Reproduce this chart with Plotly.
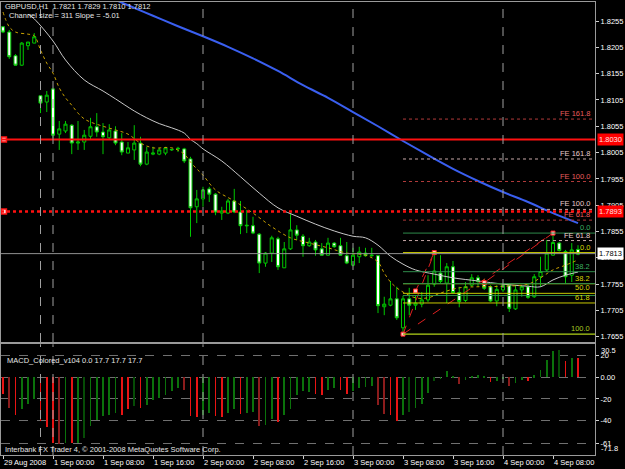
import plotly.graph_objects as go

FONT = "Liberation Sans, Arial, sans-serif"

# ---------------- data ----------------
bar_index = list(range(93))

open_ = [1.8244, 1.8234, 1.8189, 1.8171, 1.8208, 1.8213, 1.8113, 1.8101, 1.8126, 1.8040,
         1.8046, 1.8057, 1.8023, 1.8025, 1.8036, 1.8054, 1.8044, 1.8033, 1.8046, 1.8025,
         1.8004, 1.8010, 1.8023, 1.7983, 1.8002, 1.8002, 1.8004, 1.8010, 1.8012, 1.8012,
         1.7993, 1.7902, 1.7917, 1.7936, 1.7926, 1.7890, 1.7890, 1.7913, 1.7892, 1.7867,
         1.7866, 1.7850, 1.7795, 1.7814, 1.7841, 1.7786, 1.7822, 1.7858, 1.7846, 1.7828,
         1.7835, 1.7822, 1.7810, 1.7833, 1.7828, 1.7809, 1.7791, 1.7807, 1.7814, 1.7809,
         1.7809, 1.7712, 1.7715, 1.7727, 1.7672, 1.7727, 1.7715, 1.7717, 1.7725, 1.7755,
         1.7776, 1.7757, 1.7788, 1.7739, 1.7724, 1.7753, 1.7767, 1.7760, 1.7750, 1.7723,
         1.7744, 1.7753, 1.7708, 1.7744, 1.7750, 1.7731, 1.7769, 1.7782, 1.7810, 1.7833,
         1.7817, 1.7772, 1.7821]
high = [1.8245, 1.8238, 1.8192, 1.8215, 1.8215, 1.8232, 1.8114, 1.8122, 1.8128, 1.8065,
        1.8065, 1.8059, 1.8065, 1.8048, 1.8071, 1.8080, 1.8061, 1.8059, 1.8055, 1.8042,
        1.8025, 1.8057, 1.8035, 1.8016, 1.8016, 1.8014, 1.8016, 1.8012, 1.8016, 1.8014,
        1.7997, 1.7934, 1.7940, 1.7940, 1.7928, 1.7902, 1.7917, 1.7936, 1.7913, 1.7896,
        1.7883, 1.7852, 1.7816, 1.7847, 1.7845, 1.7835, 1.7888, 1.7867, 1.7850, 1.7843,
        1.7839, 1.7833, 1.7843, 1.7835, 1.7843, 1.7835, 1.7824, 1.7826, 1.7824, 1.7824,
        1.7810, 1.7731, 1.7761, 1.7750, 1.7733, 1.7748, 1.7734, 1.7740, 1.7772, 1.7815,
        1.7810, 1.7795, 1.7799, 1.7750, 1.7759, 1.7774, 1.7772, 1.7765, 1.7753, 1.7753,
        1.7757, 1.7757, 1.7753, 1.7753, 1.7757, 1.7774, 1.7807, 1.7839, 1.7852, 1.7835,
        1.7820, 1.7833, 1.7829]
low = [1.8232, 1.8183, 1.8170, 1.8170, 1.8200, 1.8213, 1.8080, 1.8082, 1.8033, 1.8010,
       1.8042, 1.8002, 1.8010, 1.8010, 1.8029, 1.8035, 1.8002, 1.8029, 1.8019, 1.8000,
       1.8004, 1.7991, 1.7979, 1.7981, 1.8000, 1.8000, 1.8000, 1.8008, 1.8006, 1.7985,
       1.7845, 1.7871, 1.7902, 1.7911, 1.7886, 1.7877, 1.7888, 1.7890, 1.7850, 1.7852,
       1.7850, 1.7776, 1.7788, 1.7797, 1.7782, 1.7786, 1.7820, 1.7839, 1.7807, 1.7826,
       1.7809, 1.7809, 1.7809, 1.7824, 1.7809, 1.7793, 1.7789, 1.7795, 1.7807, 1.7807,
       1.7700, 1.7696, 1.7713, 1.7687, 1.7660, 1.7696, 1.7706, 1.7711, 1.7721, 1.7750,
       1.7757, 1.7719, 1.7736, 1.7711, 1.7721, 1.7750, 1.7751, 1.7744, 1.7721, 1.7713,
       1.7740, 1.7702, 1.7706, 1.7731, 1.7727, 1.7729, 1.7750, 1.7778, 1.7809, 1.7817,
       1.7757, 1.7759, 1.7810]
close = [1.8234, 1.8187, 1.8171, 1.8213, 1.8215, 1.8225, 1.8099, 1.8114, 1.8038, 1.8050,
         1.8059, 1.8023, 1.8025, 1.8038, 1.8054, 1.8044, 1.8035, 1.8048, 1.8023, 1.8006,
         1.8014, 1.8023, 1.7983, 1.8006, 1.8004, 1.8010, 1.8014, 1.8011, 1.8013, 1.7989,
         1.7900, 1.7917, 1.7934, 1.7926, 1.7892, 1.7894, 1.7913, 1.7892, 1.7866, 1.7866,
         1.7852, 1.7795, 1.7814, 1.7843, 1.7788, 1.7822, 1.7858, 1.7848, 1.7828, 1.7835,
         1.7820, 1.7810, 1.7833, 1.7826, 1.7810, 1.7795, 1.7810, 1.7816, 1.7809, 1.7810,
         1.7714, 1.7717, 1.7727, 1.7691, 1.7727, 1.7715, 1.7719, 1.7725, 1.7753, 1.7780,
         1.7760, 1.7788, 1.7739, 1.7722, 1.7750, 1.7767, 1.7760, 1.7747, 1.7723, 1.7745,
         1.7753, 1.7709, 1.7744, 1.7750, 1.7730, 1.7769, 1.7779, 1.7814, 1.7834, 1.7819,
         1.7769, 1.7820, 1.7812]

# moving averages (values read at selected bars)
ma_blue_idx = [18, 20, 24, 28, 32, 36, 40, 44, 48, 52, 56, 60, 64, 68, 72, 76, 80, 84, 88, 92]
ma_blue = [1.8295, 1.8285, 1.8265, 1.8245, 1.8226, 1.8206, 1.8184, 1.8160, 1.8133, 1.8109,
           1.8082, 1.8055, 1.8027, 1.8000, 1.7974, 1.7951, 1.7930, 1.7911, 1.7890, 1.7871]

ma_silver_idx = [4, 5, 8, 10, 13, 16, 18, 21, 23, 25, 27, 29, 30, 31, 32, 35, 38, 41, 44, 47,
                 50, 53, 56, 58, 60, 62, 64, 66, 69, 72, 76, 80, 84, 86, 88, 90, 92]
ma_silver = [1.8268, 1.8259, 1.8217, 1.8181, 1.8143, 1.8122, 1.8107, 1.8084, 1.8071, 1.8060,
             1.8052, 1.8042, 1.8030, 1.8022, 1.8012, 1.7989, 1.7959, 1.7928, 1.7900, 1.7884,
             1.7869, 1.7856, 1.7846, 1.7843, 1.7829, 1.7808, 1.7793, 1.7782, 1.7774, 1.7767,
             1.7761, 1.7755, 1.7751, 1.7750, 1.7763, 1.7772, 1.7778]

ma_gold_idx = [0, 1, 2, 4, 5, 6, 7, 8, 9, 10, 11, 12, 13, 14, 16, 18, 20, 22, 24, 27,
               29, 30, 31, 32, 34, 37, 40, 43, 46, 49, 52, 55, 58, 60, 61, 62, 63, 64, 66, 68,
               70, 73, 76, 80, 84, 86, 88, 90, 92]
ma_gold = [1.8272, 1.8244, 1.8234, 1.8230, 1.8227, 1.8200, 1.8175, 1.8156, 1.8128, 1.8109,
           1.8095, 1.8080, 1.8069, 1.8063, 1.8055, 1.8048, 1.8040, 1.8023, 1.8014, 1.8014,
           1.8002, 1.7987, 1.7974, 1.7962, 1.7934, 1.7913, 1.7890, 1.7864, 1.7843, 1.7833,
           1.7824, 1.7814, 1.7810, 1.7797, 1.7776, 1.7759, 1.7748, 1.7740, 1.7729, 1.7729,
           1.7738, 1.7748, 1.7750, 1.7751, 1.7755, 1.7767, 1.7782, 1.7791, 1.7801]

# MACD histogram
macd_hist = [-16, -28.6, -35, -30, -25, -20, -41, -46.5, -61, -62,
             -61, -61, -61, -56, -45.5, -40, -36, -35, -33, -35,
             -30, -27, -28.6, -25.5, -21, -19.4, -16.3, -12.6, -10, -12.3,
             -36, -37, -35, -33, -36, -37, -33, -30, -34, -33,
             -32, -45, -44, -39, -41.5, -35, -30, -17, -13, -13.8,
             -15.7, -17, -11.7, -10, -11.7, -15.4, -13, -10, -9.5, -8.6,
             -25.5, -33.8, -35.4, -40.3, -34.8, -32.6, -28.6, -24.6, -14.8, -4,
             -1.8, 5.2, 0.5, -6.2, -2.8, 0.3, 1.5, 0.3, -5, -4,
             -2, -8.6, -5.5, -2.8, -4, 1.5, 6.8, 15.4, 24.3, 25.2,
             15, 17.5, 17.7]
macd_state = ["r", "m", "r", "g", "g", "g", "r", "r", "r", "m",
              "g", "r", "g", "d", "g", "g", "g", "g", "g", "r",
              "r", "d", "r", "g", "g", "g", "g", "g", "g", "m",
              "r", "r", "g", "g", "r", "r", "g", "g", "r", "g",
              "g", "m", "g", "g", "r", "g", "g", "g", "g", "g",
              "r", "r", "g", "g", "r", "r", "g", "g", "g", "g",
              "m", "m", "r", "r", "g", "d", "g", "g", "g", "d",
              "g", "g", "g", "m", "g", "g", "g", "g", "r", "g",
              "g", "m", "g", "g", "r", "g", "g", "g", "g", "d",
              "r", "g", "r"]

time_tick_idx = [0, 8, 16, 24, 32, 40, 48, 56, 64, 72, 80, 88]
time_tick_text = ["29 Aug 2008", "1 Sep 00:00", "1 Sep 08:00", "1 Sep 16:00", "2 Sep 00:00",
                  "2 Sep 08:00", "2 Sep 16:00", "3 Sep 00:00", "3 Sep 08:00", "3 Sep 16:00",
                  "4 Sep 00:00", "4 Sep 08:00"]
separator_idx = [6, 8, 32, 56, 80]

price_ticks = [1.7655, 1.7705, 1.7755, 1.7805, 1.7855, 1.7905, 1.7955, 1.8005,
               1.8055, 1.8105, 1.8155, 1.8205, 1.8255]
macd_ticks = [20, 0, -20, -40, -61]
macd_tick_text = ["20", "0.00", "-20", "-40", "-61"]
macd_max, macd_min = 30.5, -71.8

red_line_solid = 1.8030
red_line_dot = 1.7893
bid_price = 1.7813

# Fibonacci anchors (bar index, price)
swing_low = (64, 1.7660)
swing_high1 = (69, 1.7815)
swing_high2 = (88, 1.7852)
fe_a_c = (77, 1.7758)
fe_b_c = (66, 1.7742)
retr_levels = [0.0, 38.2, 50.0, 61.8, 100.0]
fe_levels = [61.8, 100.0, 161.8]

# ---------------- figure ----------------
X0, X1 = -0.32, 94.72
Y0, Y1 = 1.76450, 1.82911

fig = go.Figure()

fig.add_trace(go.Candlestick(
    x=bar_index, open=open_, high=high, low=low, close=close,
    increasing=dict(line=dict(color="#00c800", width=1), fillcolor="#000000"),
    decreasing=dict(line=dict(color="#00c800", width=1), fillcolor="#ffffff"),
    whiskerwidth=0, showlegend=False, hoverinfo="skip", xaxis="x", yaxis="y"))

fig.add_trace(go.Scatter(x=ma_blue_idx, y=ma_blue, mode="lines", line=dict(color="#3a5ff0", width=2, shape="spline"),
                         showlegend=False, hoverinfo="skip"))
fig.add_trace(go.Scatter(x=ma_silver_idx, y=ma_silver, mode="lines", line=dict(color="#c8c8c8", width=1, shape="spline"),
                         showlegend=False, hoverinfo="skip"))
fig.add_trace(go.Scatter(x=ma_gold_idx, y=ma_gold, mode="lines", line=dict(color="#c8a000", width=1, dash="dot", shape="spline"),
                         showlegend=False, hoverinfo="skip"))

# zigzag / fibo anchor lines
def seg(a, b, color="#e02020"):
    fig.add_trace(go.Scatter(x=[a[0], b[0]], y=[a[1], b[1]], mode="lines",
                             line=dict(color=color, width=1, dash="dash"),
                             showlegend=False, hoverinfo="skip"))

seg(swing_low, swing_high1)
seg(swing_high1, fe_b_c)
seg(swing_low, swing_high2)
seg(swing_high2, fe_a_c)

anchors = [swing_low, fe_b_c, swing_high1, fe_a_c, swing_high2]
fig.add_trace(go.Scatter(x=[a[0] for a in anchors], y=[a[1] for a in anchors], mode="markers",
                         marker=dict(symbol="square", size=4, color="#ffc8c8", line=dict(color="#ff2020", width=1)),
                         showlegend=False, hoverinfo="skip"))

shapes = []
annotations = []

def label(text, y, color):
    annotations.append(dict(text=text, xref="paper", yref="y", x=1, y=y, xanchor="right",
                            yanchor="bottom", xshift=-3, yshift=-1, showarrow=False,
                            font=dict(family=FONT, size=7.5, color=color)))

def hline(y, color, dash="solid", width=1, x0=None):
    if x0 is None:
        shapes.append(dict(type="line", xref="x domain", yref="y", x0=0, x1=1, y0=y, y1=y,
                           line=dict(color=color, width=width, dash=dash)))
    else:
        shapes.append(dict(type="line", xref="x", yref="y", x0=x0, x1=X1, y0=y, y1=y,
                           line=dict(color=color, width=width, dash=dash)))

# Fibo expansions
rng_a = swing_high2[1] - swing_low[1]
rng_b = swing_high1[1] - swing_low[1]
for lv in fe_levels:
    ya = fe_a_c[1] + lv / 100 * rng_a
    hline(ya, "#b03a3a", "dot", 1, x0=swing_low[0])
    label("FE %.1f" % lv, ya, "#e85c5c")
    yb = fe_b_c[1] + lv / 100 * rng_b
    hline(yb, "#c8a8a8", "dot", 1, x0=swing_low[0])
    label("FE %.1f" % lv, yb, "#e8cccc")

# Fibo retracements (green: low->high2, yellow: low->high1)
for lv in retr_levels:
    yg = swing_high2[1] - lv / 100 * rng_a
    hline(yg, "#2e8b4a", "solid", 1, x0=swing_low[0])
    yy = swing_high1[1] - lv / 100 * rng_b
    hline(yy, "#c8c800", "solid", 1, x0=swing_low[0])
for lv in [0.0, 38.2]:
    label("%.1f" % lv, swing_high2[1] - lv / 100 * rng_a, "#3cb060")
for lv in [0.0, 38.2, 50.0, 61.8]:
    label("%.1f" % lv, swing_high1[1] - lv / 100 * rng_b, "#d8d800")
label("100.0", swing_low[1], "#a8c820")

# horizontal price lines
hline(bid_price, "#909090", "solid", 1)
hline(red_line_solid, "#ff1010", "solid", 2)
hline(red_line_dot, "#ff1010", "dot", 2.5)

fig.add_trace(go.Scatter(x=[0.15, 0.15], y=[red_line_solid, red_line_dot], mode="markers",
                         marker=dict(symbol="square", size=5, color="#ffd0d0", line=dict(color="#ff1010", width=1.5)),
                         showlegend=False, hoverinfo="skip"))

# period separators
for s in separator_idx:
    shapes.append(dict(type="line", xref="x", yref="y domain", x0=s, x1=s, y0=0, y1=1,
                       line=dict(color="#a0a0a0", width=1, dash="dash")))
    shapes.append(dict(type="line", xref="x2", yref="y2 domain", x0=s, x1=s, y0=0, y1=1,
                       line=dict(color="#a0a0a0", width=1, dash="dash")))

# MACD histogram
state_color = {"g": "#0b720b", "d": "#064c06", "r": "#e81414", "m": "#8c1c1c"}
fig.add_trace(go.Bar(x=bar_index, y=macd_hist, marker=dict(color=[state_color[s] for s in macd_state], line=dict(width=0)),
                     width=0.14, xaxis="x2", yaxis="y2", showlegend=False, hoverinfo="skip"))

# price boxes on right axis
def box(text, y, bg, fg):
    annotations.append(dict(text=text, xref="paper", yref="y", x=1, y=y, xanchor="left", yanchor="middle",
                            xshift=2, showarrow=False, bgcolor=bg, borderpad=1,
                            font=dict(family=FONT, size=7.5, color=fg)))

box("%.4f" % red_line_solid, red_line_solid, "#ff0000", "#ffe0e0")
box("%.4f" % red_line_dot, red_line_dot, "#ff0000", "#ffe0e0")
box("%.4f" % bid_price, bid_price, "#ffffff", "#000000")

# MACD extreme labels
for v, anc in [(macd_max, "top"), (macd_min, "bottom")]:
    annotations.append(dict(text=("%.1f" % v), xref="paper", yref="y2", x=1, y=v, xanchor="left",
                            yanchor=anc, xshift=4, showarrow=False,
                            font=dict(family=FONT, size=7.5, color="#ffffff")))

# header texts
def txt(t, x, y, size=7.5):
    annotations.append(dict(text=t, xref="paper", yref="paper", x=x, y=y, xanchor="left", yanchor="middle",
                            showarrow=False, font=dict(family=FONT, size=size, color="#e6e6e6")))

txt("GBPUSD,H1  %.4f %.4f %.4f %.4f" % (open_[-1], high[-1], low[-1], close[-1]), 0.003, 0.9896)
txt("Channel size = 311 Slope = -5.01", 0.010, 0.9697)
txt("MACD_Colored_v104 0.0 %.1f %.1f %.1f" % (macd_hist[-1], macd_hist[-1], macd_hist[-1]), 0.006, 0.2097)
txt("Interbank FX Trader 4, © 2001-2008 MetaQuotes Software Corp.", 0.003, 0.0132)

axis_common = dict(showgrid=False, zeroline=False, showline=True, mirror=True, linecolor="#9a9a9a",
                   linewidth=1, automargin=False)

fig.update_layout(
    width=625, height=469,
    margin=dict(l=1, r=30, t=2, b=14, autoexpand=False),
    paper_bgcolor="#000000", plot_bgcolor="#000000",
    font=dict(family=FONT, size=7.5, color="#ffffff"),
    showlegend=False, boxgap=0.3, bargap=0,
    shapes=shapes, annotations=annotations,
    xaxis=dict(range=[X0, X1], domain=[0, 1], anchor="y", showticklabels=False, ticks="",
               rangeslider=dict(visible=False), **axis_common),
    yaxis=dict(range=[Y0, Y1], domain=[0.2494, 1], anchor="x", side="right",
               tickvals=price_ticks, ticktext=["%.4f" % p for p in price_ticks],
               ticks="outside", ticklen=3, tickcolor="#d0d0d0",
               tickfont=dict(family=FONT, size=7.5, color="#ffffff"), **axis_common),
    xaxis2=dict(range=[X0, X1], domain=[0, 1], anchor="y2", tickangle=0,
                tickvals=time_tick_idx, ticktext=time_tick_text, ticks="outside", ticklen=3,
                tickcolor="#d0d0d0", ticklabelposition="outside right",
                tickfont=dict(family=FONT, size=7.5, color="#ffffff"), **axis_common),
    yaxis2=dict(range=[macd_min, macd_max], domain=[0, 0.2444], anchor="x2", side="right",
                tickvals=macd_ticks, ticktext=macd_tick_text, ticks="outside", ticklen=3,
                tickcolor="#d0d0d0", tickfont=dict(family=FONT, size=7.5, color="#ffffff"),
                showgrid=True, gridcolor="#707070", griddash="dash", gridwidth=1,
                zeroline=False, showline=True, mirror=True, linecolor="#9a9a9a", linewidth=1,
                automargin=False),
)

fig.write_html("out.html")
